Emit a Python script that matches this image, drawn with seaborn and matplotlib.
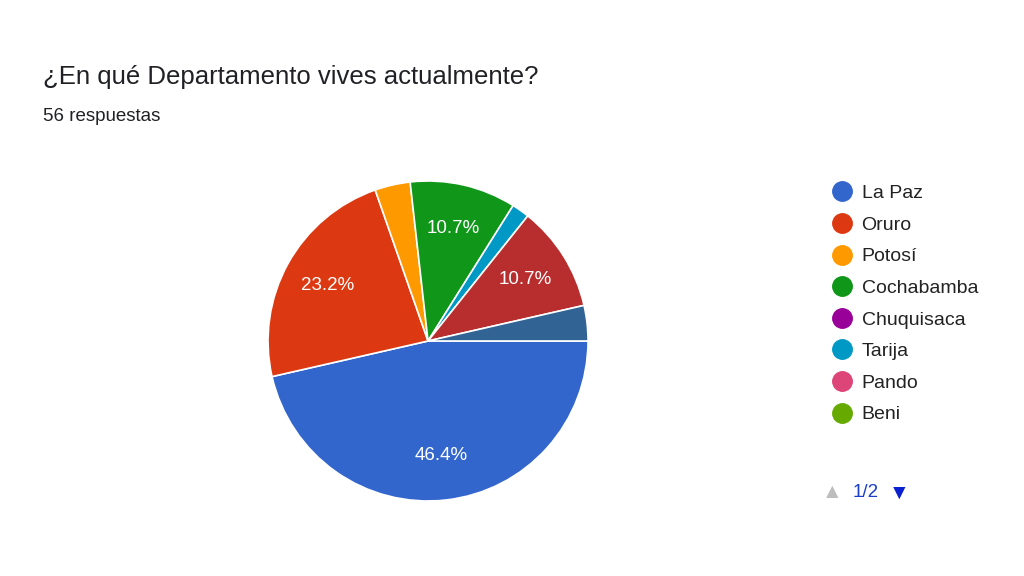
import matplotlib
matplotlib.use("Agg")
import matplotlib.pyplot as plt
import seaborn as sns
from matplotlib.lines import Line2D

categories = ["La Paz", "Oruro", "Potosí", "Cochabamba", "Chuquisaca", "Tarija", "Pando", "Beni", "Santa Cruz", "Otro"]
counts = [26, 13, 2, 6, 0, 1, 0, 0, 6, 2]
legend_shown = 8
colors = ["#3366cc", "#dc3912", "#ff9900", "#109618", "#990099", "#0099c6",
          "#dd4477", "#66aa00", "#b82e2e", "#316395"]

sns.set_theme(style="white")
plt.rcParams['font.family'] = ['Liberation Sans', 'DejaVu Sans']
palette = sns.color_palette(colors)

fig = plt.figure(figsize=(10.24, 5.76), dpi=100)
ax = fig.add_axes([0.418 - 0.15625, 0.408 - 0.2778, 0.3125, 0.5556])

def fmt(p):
    return f"{p:.1f}%" if p >= 5 else ""

idx = [i for i, c in enumerate(counts) if c > 0]
wedges, texts, autotexts = ax.pie([counts[i] for i in idx], colors=[palette[i] for i in idx],
       startangle=0, counterclock=False, autopct=fmt, pctdistance=0.72, radius=1,
       wedgeprops=dict(edgecolor="white", linewidth=1.2),
       textprops=dict(color="white", fontsize=13.5))
ax.set_xlim(-1, 1)
ax.set_ylim(-1, 1)
ax.set_aspect("equal")

fig.text(0.042, 0.855, "¿En qué Departamento vives actualmente?", fontsize=18.5, color="#202124")
fig.text(0.042, 0.79, "56 respuestas", fontsize=13.5, color="#202124")

handles = [Line2D([0], [0], marker="o", linestyle="", markersize=14,
                  markerfacecolor=palette[i], markeredgecolor=palette[i])
           for i in range(legend_shown)]
fig.legend(handles, categories[:legend_shown], loc="upper left",
           bbox_to_anchor=(0.792, 0.71), frameon=False, fontsize=14,
           labelspacing=0.72, handletextpad=0.3, handlelength=1.4, labelcolor="#222222")

fig.text(0.803, 0.135, "▲", fontsize=15, color="#bdbdbd")
fig.text(0.833, 0.137, "1/2", fontsize=13.5, color="#1a3fc8")
fig.text(0.868, 0.135, "▼", fontsize=15, color="#0a1fd0")

fig.savefig("out.png", dpi=100)
